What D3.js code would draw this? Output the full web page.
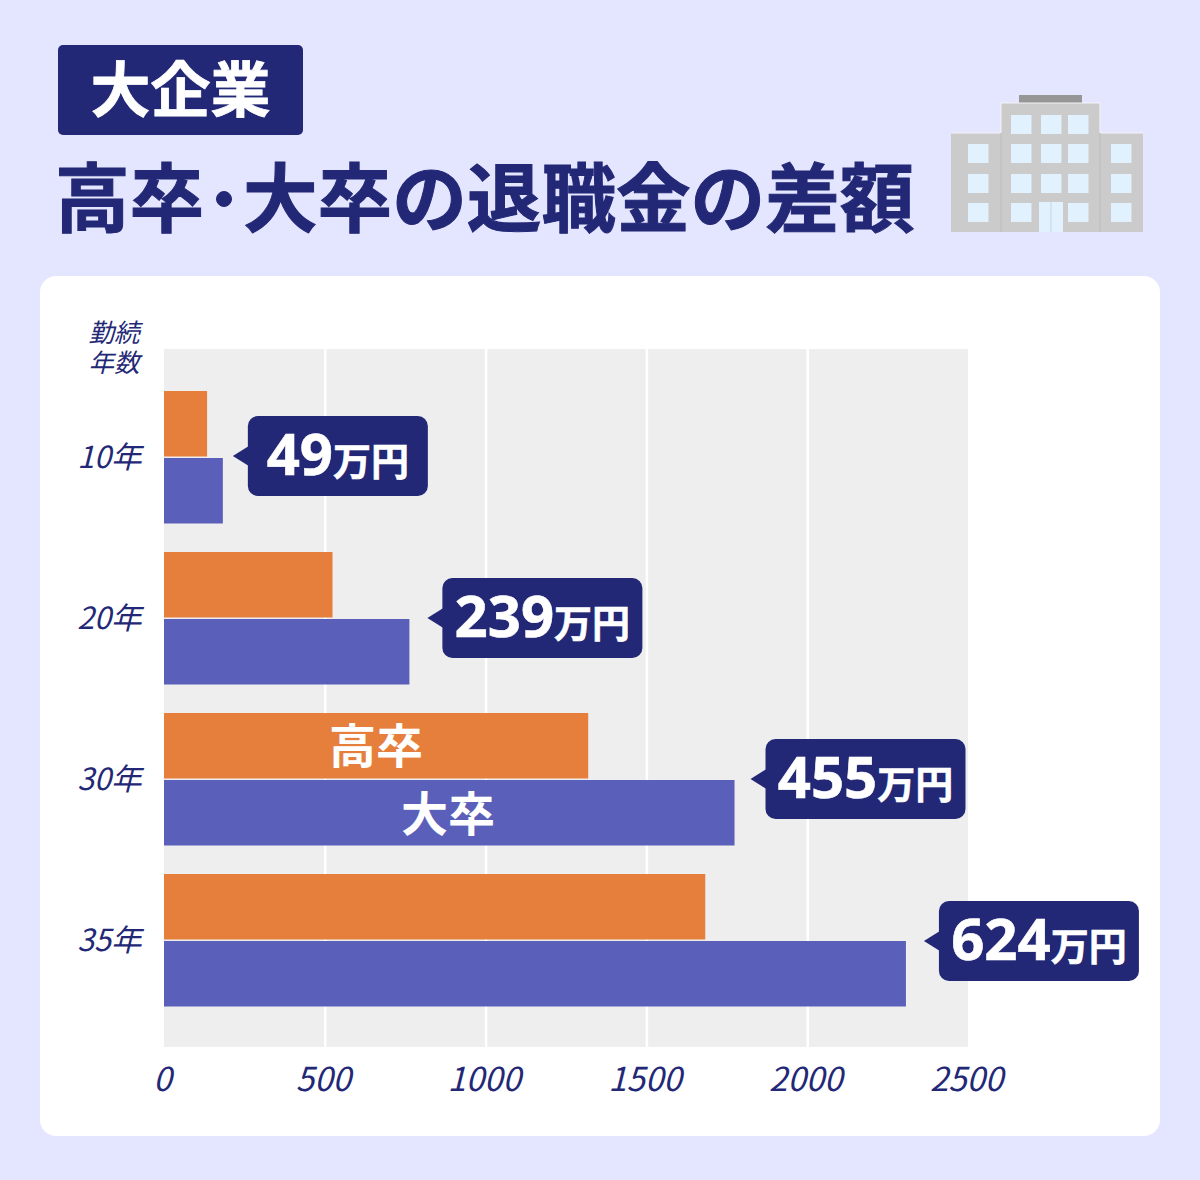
<!DOCTYPE html>
<html lang="ja">
<head>
<meta charset="utf-8">
<script src="https://cdn.jsdelivr.net/npm/d3@7"></script>
<style>
html,body{margin:0;padding:0;background:#e4e5ff}
svg{display:block}
text{font-family:"Noto Sans CJK JP","Noto Sans",sans-serif}
</style>
</head>
<body>
<div id="chart"></div>
<script>
// Retirement pay by years of service, in 万円
const years = ["10年", "20年", "30年", "35年"];
const highSchool = [134, 524, 1319, 1683];
const university = [183, 763, 1774, 2307];
const gaps = [49, 239, 455, 624];
const xTicks = [0, 500, 1000, 1500, 2000, 2500];
const seriesNames = ["高卒", "大卒"];

const navy = "#232876", orange = "#e67f3c", violet = "#5a60b9";

const svg = d3.select("#chart").append("svg").attr("width", 1200).attr("height", 1180);
svg.append("rect").attr("width", 1200).attr("height", 1180).attr("fill", "#e4e5ff");

// Heading
svg.append("rect").attr("x", 58).attr("y", 45).attr("width", 245).attr("height", 90).attr("rx", 5).attr("fill", navy);
svg.append("text").attr("x", 180.5).attr("y", 112).attr("text-anchor", "middle")
  .attr("font-size", 60).attr("font-weight", 700).attr("fill", "#fff")
  .attr("stroke", "#fff").attr("stroke-width", 0.8).text("大企業");

const title = svg.append("g").attr("font-size", 74.6).attr("font-weight", 700).attr("fill", navy)
  .attr("stroke", navy).attr("stroke-width", 1);
title.append("text").attr("x", 55).attr("y", 226).text("高卒");
title.append("circle").attr("cx", 224).attr("cy", 199).attr("r", 7.5);
title.append("text").attr("x", 243).attr("y", 226).text("大卒の退職金の差額");

// Building pictogram
const b = svg.append("g").attr("transform", "translate(951,95)");
const wall = "#cbcbcb", glass = "#e1f1fd";
b.append("rect").attr("x", 68).attr("y", 0).attr("width", 63).attr("height", 8).attr("fill", "#969696");
b.append("rect").attr("x", 50).attr("y", 8).attr("width", 99).attr("height", 129).attr("fill", wall);
b.append("rect").attr("x", 0).attr("y", 38).attr("width", 192).attr("height", 99).attr("fill", wall);
b.append("path").attr("d", "M0 38H50V8H149V38H192").attr("fill", "none").attr("stroke", "#f4f4f8").attr("stroke-width", 1);
b.append("path").attr("d", "M50 38V137M149 38V137").attr("stroke", "#c2c2c2").attr("stroke-width", 1.5);
const winRows = [20, 49, 79, 108];
const centerCols = [60, 90, 117];
winRows.forEach((y, r) => centerCols.forEach((x, c) => {
  if (r === 3 && c === 1) return;
  b.append("rect").attr("x", x).attr("y", y).attr("width", 20.5).attr("height", 19).attr("fill", glass);
}));
[17, 160].forEach(x => winRows.slice(1).forEach(y => {
  b.append("rect").attr("x", x).attr("y", y).attr("width", 20.5).attr("height", 19).attr("fill", glass);
}));
b.append("rect").attr("x", 88).attr("y", 107).attr("width", 24).attr("height", 30).attr("fill", glass);
b.append("line").attr("x1", 100).attr("x2", 100).attr("y1", 107).attr("y2", 137).attr("stroke", "#c9d6e0");

// Card
svg.append("rect").attr("x", 40).attr("y", 276).attr("width", 1120).attr("height", 860).attr("rx", 16).attr("fill", "#fff");

const x = d3.scaleLinear().domain([0, 2500]).range([164, 968]);
const y = d3.scaleBand().domain(years).range([376.5, 1020.5]);
const plotTop = 349, plotBottom = 1047, barH = 65.5;

svg.append("rect").attr("x", x(0)).attr("y", plotTop).attr("width", x(2500) - x(0)).attr("height", plotBottom - plotTop).attr("fill", "#eeeeee");

// White grid lines come from the axis ticks
const axis = svg.append("g").attr("transform", `translate(0,${plotTop})`)
  .call(d3.axisBottom(x).tickValues(xTicks).tickSize(plotBottom - plotTop).tickFormat(d => d));
axis.select(".domain").remove();
axis.selectAll(".tick line").attr("stroke", d => d === 0 || d === 2500 ? "none" : "#fff").attr("stroke-width", 2.5);
axis.selectAll(".tick text").attr("x", -2).attr("y", 1091 - plotTop).attr("dy", 0)
  .attr("font-size", 33).attr("font-style", "italic").attr("fill", navy).attr("font-family", "'Open Sans',sans-serif")
  .attr("font-weight", 400);

// Paired bars
const mid = d => y(d) + y.bandwidth() / 2;
svg.selectAll(".hs").data(years).join("rect").attr("class", "hs")
  .attr("x", x(0)).attr("y", d => mid(d) - 66).attr("height", barH)
  .attr("width", (d, i) => x(highSchool[i]) - x(0)).attr("fill", orange);
svg.selectAll(".un").data(years).join("rect").attr("class", "un")
  .attr("x", x(0)).attr("y", d => mid(d) + 1).attr("height", barH)
  .attr("width", (d, i) => x(university[i]) - x(0)).attr("fill", violet);

// Series names sit inside the 30年 bars
svg.append("text").attr("x", 376).attr("y", 763).attr("text-anchor", "middle").attr("font-size", 47).attr("font-weight", 700).attr("fill", "#fff").text(seriesNames[0]);
svg.append("text").attr("x", 448).attr("y", 831).attr("text-anchor", "middle").attr("font-size", 47).attr("font-weight", 700).attr("fill", "#fff").text(seriesNames[1]);

// Category labels
svg.selectAll(".cat").data(years).join("text").attr("class", "cat")
  .attr("x", 141.5).attr("y", d => mid(d) + 11).attr("text-anchor", "end")
  .attr("font-size", 30.5).attr("font-style", "italic").attr("fill", navy).text(d => d);
const axisName = svg.append("text").attr("text-anchor", "end").attr("font-size", 25.5).attr("font-style", "italic").attr("fill", navy);
axisName.append("tspan").attr("x", 139.5).attr("y", 342).text("勤続");
axisName.append("tspan").attr("x", 139.5).attr("y", 372).text("年数");

// Callouts stating the gap between the two bars
const calloutGap = [10, 18, 16, 18];
const calloutW = [180, 200, 200, 200];
const callouts = svg.selectAll(".callout").data(years).join("g").attr("class", "callout")
  .attr("transform", (d, i) => `translate(${x(university[i]) + calloutGap[i]},${mid(d) + (i === 0 ? -1 : i === 3 ? 1 : 0)})`);
callouts.append("path").attr("d", "M0 0L16 -10V10Z").attr("fill", navy);
callouts.append("rect").attr("x", 15).attr("y", -40).attr("width", (d, i) => calloutW[i]).attr("height", 80).attr("rx", 10).attr("fill", navy);
callouts.append("text").attr("x", (d, i) => 15 + calloutW[i] / 2).attr("y", 19).attr("text-anchor", "middle").attr("fill", "#fff").attr("font-weight", 700)
  .each(function(d, i) {
    const t = d3.select(this);
    t.append("tspan").attr("font-size", 58).attr("font-family", "'Open Sans',sans-serif").attr("stroke", "#fff").attr("stroke-width", 0.6).text(gaps[i]);
    t.append("tspan").attr("font-size", 38).attr("stroke", "#fff").attr("stroke-width", 0.6).text("万円");
  });
</script>
</body>
</html>
